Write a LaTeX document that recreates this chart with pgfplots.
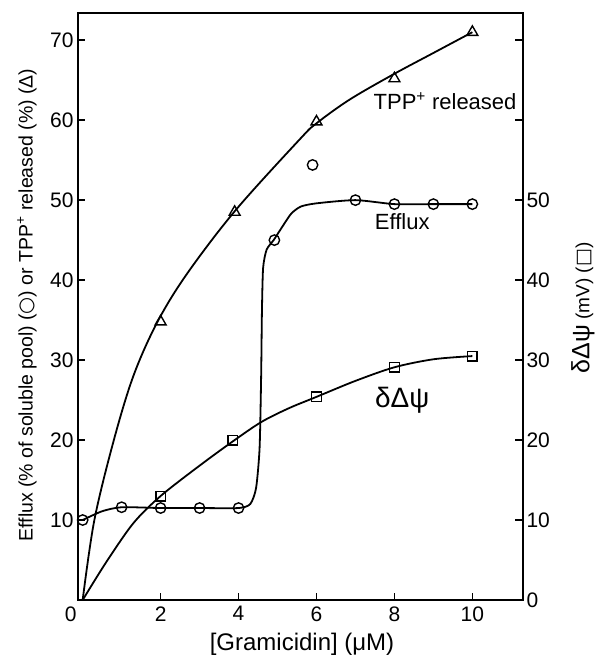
\documentclass[border=0pt]{standalone}
\usepackage{pgfplots}
\pgfplotsset{compat=1.18}
\usepackage{fontspec}
\setmainfont{Liberation Sans}
\newfontfamily\symfont{DejaVu Sans}
\begin{document}
\begin{tikzpicture}
\path[use as bounding box] (-78pt,-60pt) rectangle (518pt,600pt);
\begin{axis}[
  at={(0pt,0pt)}, anchor=south west,
  scale only axis, width=445pt, height=587pt,
  xmin=-0.12, xmax=11.3, ymin=0, ymax=73.4,
  axis line style={line width=1.6pt},
  every tick/.style={line width=1.4pt, black},
  xtick={2,4,6,8,10},
  extra x ticks={0}, extra x tick style={major tick length=0pt, xticklabel style={xshift=-12pt}},
  ytick={10,20,...,70},
  ytick pos=left, xtick pos=bottom,
  tick align=inside, major tick length=7pt,
  /pgf/number format/assume math mode=true,
  ticklabel style={font=\fontsize{21}{22}\selectfont},
  xticklabel style={yshift=-3pt},
  yticklabel style={xshift=-1pt},
  clip=false,
]
\addplot[line width=1.8pt, smooth, tension=0.55] coordinates {
 (0,0) (0.3,10) (0.8,20) (1.3,28) (1.9,34.6) (2.65,40.6) (3.9,48.6) (5.57,57.6) (6,59.6) (6.86,62.6) (8,65.8) (9,68.4) (10,71)};
\addplot[line width=1.8pt, smooth, tension=0.4] coordinates {
 (0,10) (0.5,11.1) (1,11.6) (2,11.5) (3,11.5) (4,11.5) (4.3,12.0) (4.45,14) (4.54,19) (4.58,28) (4.6,36) (4.63,41.5) (4.72,43.8) (4.9,45) (5.1,46.5) (5.35,48.3) (5.6,49.2) (6,49.6) (7,50) (8,49.5) (9,49.5) (10,49.5)};
\addplot[line width=1.8pt, smooth, tension=0.5] coordinates {
 (0,0) (0.6,4.7) (1.3,9.6) (2,13) (3,16.8) (3.9,20) (4.6,22.3) (5.3,24) (6,25.4) (7,27.4) (8,29.1) (9,30.1) (10,30.5)};
% markers
\addplot[only marks, mark=triangle, mark size=6.3pt, mark options={fill=white, line width=1.4pt}] coordinates {
 (2,34.8) (3.9,48.5) (6,59.8) (8,65.2) (10,71)};
\addplot[only marks, mark=o, mark size=5.2pt, mark options={fill=white, line width=1.4pt}] coordinates {
 (0,10) (1,11.6) (2,11.5) (3,11.5) (4,11.5) (4.92,45) (5.9,54.4) (7,50) (8,49.5) (9,49.5) (10,49.5)};
\addplot[only marks, mark=square, mark size=4.8pt, mark options={fill=white, line width=1.4pt}] coordinates {
 (2,13) (3.85,20) (6,25.4) (8,29.1) (10,30.5)};
\node[font=\fontsize{22}{24}\selectfont] at (axis cs:9.3,62.4) {TPP\textsuperscript{+} released};
\node[font=\fontsize{22}{24}\selectfont] at (axis cs:8.2,47.3) {Efflux};
\node[font=\fontsize{28}{30}\selectfont] at (axis cs:8.2,25.0) {δΔψ};
\end{axis}
\begin{axis}[
  at={(0pt,0pt)}, anchor=south west,
  scale only axis, width=445pt, height=587pt,
  xmin=-0.12, xmax=11.3, ymin=0, ymax=73.4,
  axis x line=none, axis y line*=right,
  axis line style={line width=1.6pt},
  every tick/.style={line width=1.4pt, black},
  ytick={0,10,20,...,70},
  yticklabels={0,10,20,30,40,50,,},
  tick align=inside, major tick length=8pt,
  /pgf/number format/assume math mode=true,
  ticklabel style={font=\fontsize{21}{22}\selectfont},
]
\end{axis}
\node[rotate=90, font=\fontsize{19.5}{21}\selectfont] at (-51pt,295pt) {Efflux (\% of soluble pool) ({\symfont ○}) or TPP\textsuperscript{+} released (\%) (Δ)};
\node[rotate=90] at (505pt,292pt) {{\fontsize{25}{26}\selectfont δΔψ}\ \ {\fontsize{19}{20}\selectfont (mV) ({\symfont □})}};
\node[font=\fontsize{24}{26}\selectfont] at (224pt,-44pt) {[Gramicidin] (μM)};
\end{tikzpicture}
\end{document}
